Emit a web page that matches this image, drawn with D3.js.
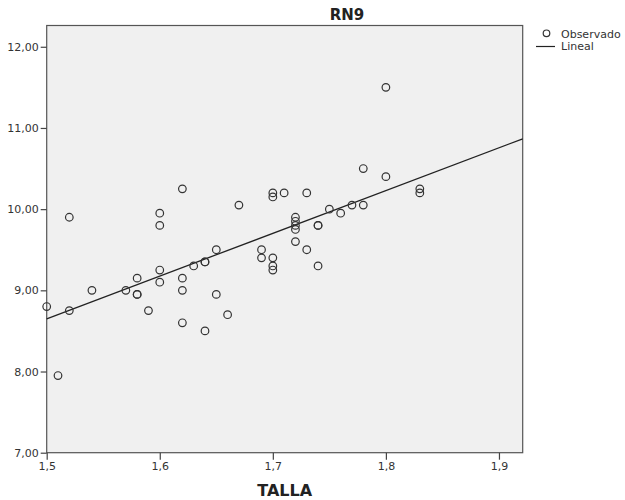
<!DOCTYPE html>
<html>
<head>
<meta charset="utf-8">
<script src="https://cdn.jsdelivr.net/npm/d3@7"></script>
<style>
  body { margin: 0; background: #fff; }
  text { font-family: "DejaVu Sans", sans-serif; fill: #333; }
</style>
</head>
<body>
<div id="chart"></div>
<script>
// observed values (TALLA, RN9)
const talla = [
  1.50, 1.51, 1.52, 1.52, 1.54, 1.57, 1.58, 1.58, 1.58, 1.59,
  1.60, 1.60, 1.60, 1.60, 1.62, 1.62, 1.62, 1.62, 1.63, 1.64,
  1.64, 1.64, 1.65, 1.65, 1.66, 1.67, 1.69, 1.69, 1.70, 1.70,
  1.70, 1.70, 1.70, 1.71, 1.72, 1.72, 1.72, 1.72, 1.72, 1.73,
  1.73, 1.74, 1.74, 1.74, 1.75, 1.76, 1.77, 1.78, 1.78, 1.80,
  1.80, 1.83, 1.83
];
const rn9 = [
  8.80, 7.95, 9.90, 8.75, 9.00, 9.00, 9.15, 8.95, 8.95, 8.75,
  9.95, 9.80, 9.25, 9.10, 10.25, 9.15, 9.00, 8.60, 9.30, 9.35,
  9.35, 8.50, 9.50, 8.95, 8.70, 10.05, 9.50, 9.40, 10.20, 10.15,
  9.40, 9.30, 9.25, 10.20, 9.90, 9.85, 9.80, 9.75, 9.60, 10.20,
  9.50, 9.80, 9.80, 9.30, 10.00, 9.95, 10.05, 10.50, 10.05, 11.50,
  10.40, 10.25, 10.20
];

// linear fit
const fitIntercept = 0.743;
const fitSlope = 5.27;

const xTicks = [1.5, 1.6, 1.7, 1.8, 1.9];
const yTicks = [7, 8, 9, 10, 11, 12];
const xDomain = [1.5, 1.921];
const yDomain = [7, 12.262];

const width = 625;
const height = 500;
const plot = { left: 46.7, top: 25.5, right: 522.7, bottom: 452.7 };

const svg = d3
  .select("#chart")
  .append("svg")
  .attr("width", width)
  .attr("height", height);

const xScale = d3.scaleLinear().domain(xDomain).range([plot.left, plot.right]);
const yScale = d3.scaleLinear().domain(yDomain).range([plot.bottom, plot.top]);

svg
  .append("rect")
  .attr("x", plot.left)
  .attr("y", plot.top)
  .attr("width", plot.right - plot.left)
  .attr("height", plot.bottom - plot.top)
  .style("fill", "#f0f0f0")
  .style("stroke", "#555")
  .style("stroke-width", 1.2);

const comma = (n, digits) => n.toFixed(digits).replace(".", ",");

const xAxis = d3
  .axisBottom(xScale)
  .tickValues(xTicks)
  .tickSize(7)
  .tickPadding(3)
  .tickFormat((d) => comma(d, 1));

const yAxis = d3
  .axisLeft(yScale)
  .tickValues(yTicks)
  .tickSize(6)
  .tickPadding(2)
  .tickFormat((d) => comma(d, 2));

const gx = svg
  .append("g")
  .attr("transform", `translate(0, ${plot.bottom})`)
  .call(xAxis);

const gy = svg
  .append("g")
  .attr("transform", `translate(${plot.left}, 0)`)
  .call(yAxis);

[gx, gy].forEach((g) => {
  g.select(".domain").remove();
  g.selectAll(".tick line").style("stroke", "#444").style("stroke-width", 1.2);
  g.selectAll(".tick text")
    .style("font-size", "11px")
    .style("font-family", "DejaVu Sans, sans-serif")
    .style("fill", "#333");
});

// fit line
const fx = (x) => fitIntercept + fitSlope * x;
svg
  .append("line")
  .attr("x1", xScale(xDomain[0]))
  .attr("y1", yScale(fx(xDomain[0])))
  .attr("x2", xScale(xDomain[1]))
  .attr("y2", yScale(fx(xDomain[1])))
  .style("stroke", "#222")
  .style("stroke-width", 1.3);

// observed points
svg
  .append("g")
  .selectAll("circle")
  .data(talla)
  .enter()
  .append("circle")
  .attr("cx", (d) => xScale(d))
  .attr("cy", (d, i) => yScale(rn9[i]))
  .attr("r", 3.8)
  .style("fill", "none")
  .style("stroke", "#333")
  .style("stroke-width", 1.2);

// titles
svg
  .append("text")
  .attr("x", 347)
  .attr("y", 19.5)
  .attr("text-anchor", "middle")
  .style("font-size", "15px")
  .style("font-weight", "bold")
  .style("fill", "#222")
  .text("RN9");

svg
  .append("text")
  .attr("x", (plot.left + plot.right) / 2)
  .attr("y", 496)
  .attr("text-anchor", "middle")
  .style("font-size", "16px")
  .style("font-weight", "bold")
  .style("fill", "#222")
  .text("TALLA");

// legend
const legend = svg.append("g");
legend
  .append("circle")
  .attr("cx", 546.5)
  .attr("cy", 33.3)
  .attr("r", 3.3)
  .style("fill", "none")
  .style("stroke", "#333")
  .style("stroke-width", 1.2);
legend
  .append("text")
  .attr("x", 561)
  .attr("y", 37.5)
  .style("font-size", "11px")
  .text("Observado");
legend
  .append("line")
  .attr("x1", 536)
  .attr("x2", 555)
  .attr("y1", 46.5)
  .attr("y2", 46.5)
  .style("stroke", "#222")
  .style("stroke-width", 1.2);
legend
  .append("text")
  .attr("x", 561)
  .attr("y", 49.5)
  .style("font-size", "11px")
  .text("Lineal");
</script>
</body>
</html>
